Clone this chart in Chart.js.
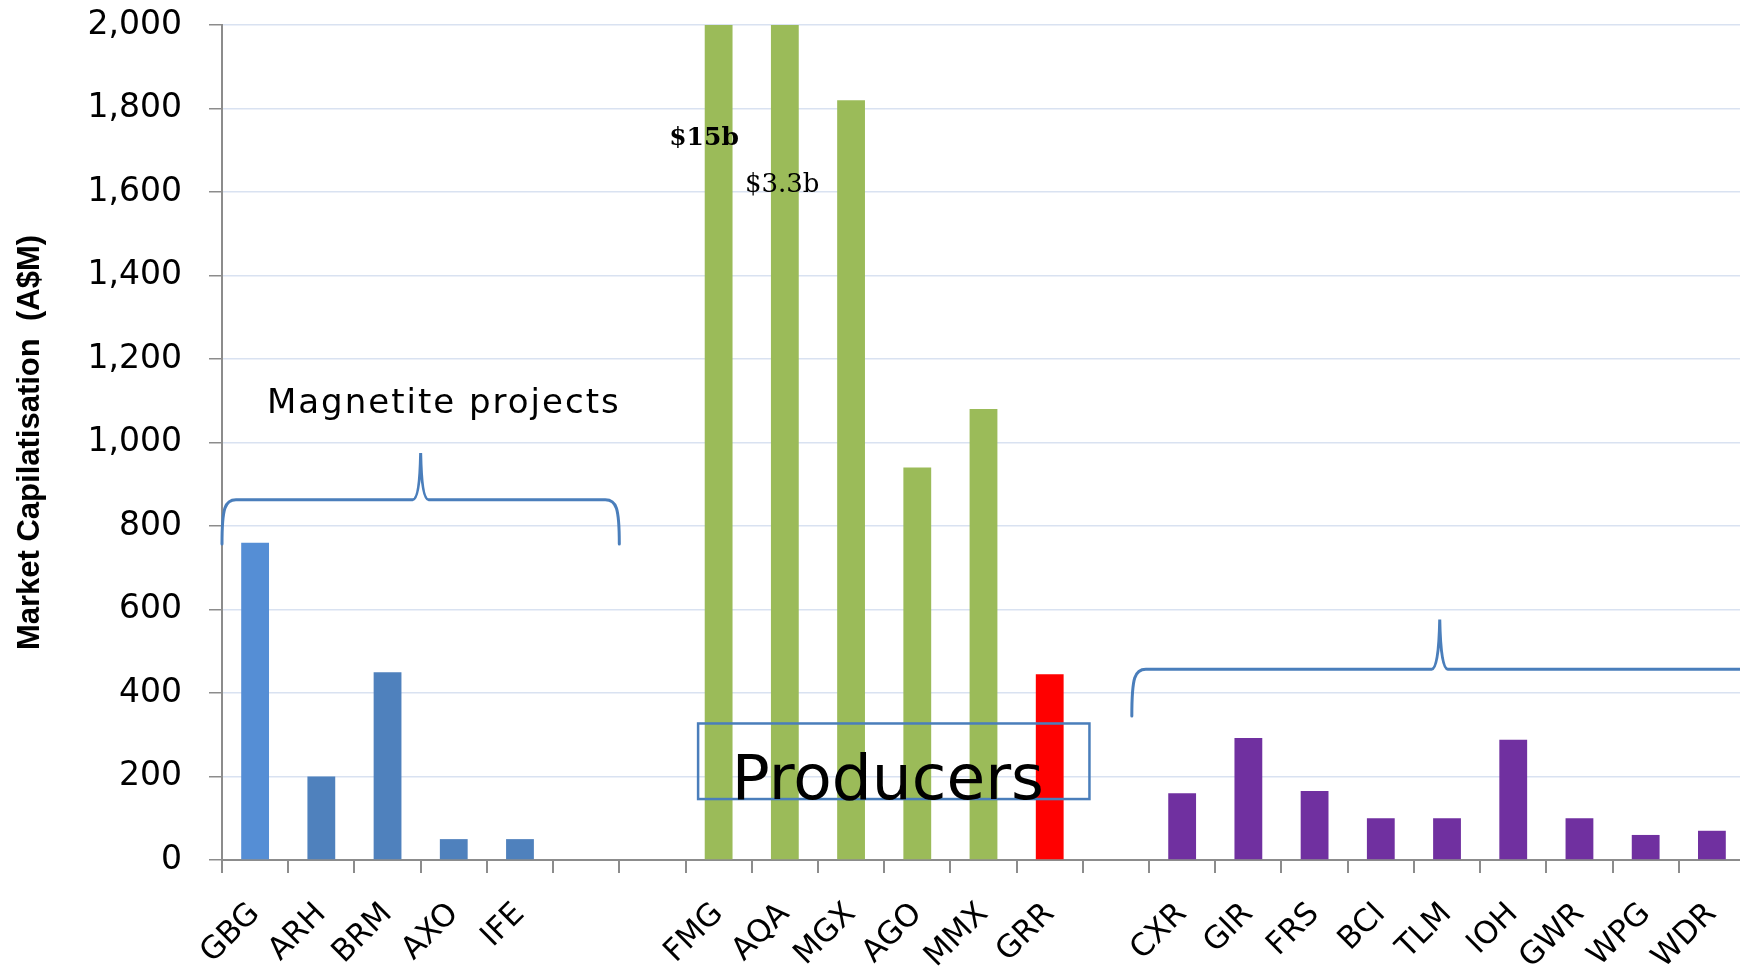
<!DOCTYPE html>
<html>
<head>
<meta charset="utf-8">
<script src="https://cdn.jsdelivr.net/npm/chart.js@4.4.1/dist/chart.umd.min.js"></script>
<style>
    html, body { margin: 0; padding: 0; background: #fff; overflow: hidden; }
    #wrap { width: 1770px; height: 972px; }
</style>
</head>
<body>
<div id="wrap"><canvas id="myChart" width="1770" height="972"></canvas></div>
<script>
// values (A$M); FMG and AQA run off the top ($15b, $3.3b)
const magnetiteLabels = ['GBG', 'ARH', 'BRM', 'AXO', 'IFE'];
const magnetiteValues = [760, 200, 450, 50, 50];
const producerLabels = ['FMG', 'AQA', 'MGX', 'AGO', 'MMX', 'GRR'];
const producerValues = [15000, 3300, 1820, 940, 1080, 445];
const developerLabels = ['CXR', 'GIR', 'FRS', 'BCI', 'TLM', 'IOH', 'GWR', 'WPG', 'WDR'];
const developerValues = [160, 292, 165, 100, 100, 288, 100, 60, 70];
const yMin = 0;
const yMax = 2000;
const yStep = 200;

const labels = [...magnetiteLabels, '', '', ...producerLabels, '', ...developerLabels];
const values = [...magnetiteValues, null, null, ...producerValues, null, ...developerValues];

const colors = [
    '#558ED5', '#4F81BD', '#4F81BD', '#4F81BD', '#4F81BD', null, null,
    '#9BBB59', '#9BBB59', '#9BBB59', '#9BBB59', '#9BBB59', '#FF0000', null,
    ...developerLabels.map(() => '#7030A0')
];

// braces, box and notes drawn on top, positioned through the scales
const notes = {
    id: 'notes',
    afterDatasetsDraw(chart) {
        const ctx = chart.ctx;
        const x = chart.scales.x;
        const y = chart.scales.y;
        const px = v => x.getPixelForValue(v);
        const py = v => y.getPixelForValue(v);

        function brace(x0, x1, xc, yb, yh, yp) {
            ctx.beginPath();
            ctx.moveTo(x0, yb);
            ctx.bezierCurveTo(x0, yh + 8, x0 + 3, yh, x0 + 14, yh);
            ctx.lineTo(xc - 8, yh);
            ctx.quadraticCurveTo(xc - 1, yh, xc, yp);
            ctx.quadraticCurveTo(xc + 1, yh, xc + 8, yh);
            ctx.lineTo(x1 - 14, yh);
            ctx.bezierCurveTo(x1 - 3, yh, x1, yh + 8, x1, yb);
            ctx.stroke();
        }

        ctx.save();
        ctx.strokeStyle = '#4A7EBB';
        ctx.lineWidth = 3;
        ctx.lineCap = 'round';
        brace(px(-0.5), px(5.5), px(2.5), py(757), py(863), py(975));
        brace(px(13.24), px(23.6), px(17.89), py(345), py(457), py(576));

        ctx.lineWidth = 2.5;
        ctx.strokeRect(px(6.69), py(327), px(12.6) - px(6.69), py(146) - py(327));

        ctx.fillStyle = '#000';
        ctx.textBaseline = 'middle';
        ctx.textAlign = 'center';
        ctx.font = '34px "DejaVu Sans"';
        ctx.letterSpacing = '2px';
        ctx.fillText('Magnetite projects', px(2.85), py(1092));
        ctx.letterSpacing = '0px';

        ctx.font = 'bold 25px "DejaVu Serif"';
        ctx.fillText('$15b', px(6.78), py(1729));
        ctx.font = '26px "DejaVu Serif"';
        ctx.fillText('$3.3b', px(7.96), py(1616));

        ctx.textAlign = 'left';
        ctx.textBaseline = 'alphabetic';
        ctx.font = '63px "DejaVu Sans"';
        ctx.fillText('Producers', px(7.2), py(146));
        ctx.restore();
    }
};

const data = {
    labels: labels,
    datasets: [
        {
            label: 'Market capitalisation',
            data: values,
            backgroundColor: colors,
            borderWidth: 0,
            barPercentage: 0.42,
            categoryPercentage: 1
        }
    ]
};

const config = {
    type: 'bar',
    data: data,
    options: {
        responsive: false,
        animation: false,
        devicePixelRatio: 1,
        layout: {
            padding: { top: 25, right: 25, left: 0, bottom: 0 }
        },
        plugins: {
            legend: { display: false },
            tooltip: { enabled: false }
        },
        scales: {
            x: {
                afterFit(scale) {
                    scale.height = 112;
                    scale.paddingLeft = 0;
                    scale.paddingRight = 0;
                },
                grid: {
                    drawOnChartArea: false,
                    tickLength: 13,
                    tickColor: '#8C8C8C',
                    lineWidth: 2
                },
                border: { color: '#8C8C8C', width: 2 },
                ticks: {
                    color: '#000',
                    font: { family: 'DejaVu Sans', size: 31 },
                    maxRotation: 45,
                    minRotation: 45,
                    autoSkip: false,
                    padding: 23
                }
            },
            y: {
                min: yMin,
                max: yMax,
                afterFit(scale) {
                    scale.width = 222;
                    scale.paddingTop = 0;
                    scale.paddingBottom = 0;
                },
                grid: {
                    color: '#D9E2F1',
                    lineWidth: 1.5,
                    tickLength: 13,
                    tickColor: '#8C8C8C'
                },
                border: { color: '#8C8C8C', width: 2 },
                ticks: {
                    stepSize: yStep,
                    color: '#000',
                    font: { family: 'DejaVu Sans', size: 33 },
                    padding: 27
                },
                title: {
                    display: true,
                    text: 'Market Capilatisation  (A$M)',
                    color: '#000',
                    font: { family: 'Liberation Sans', size: 31, weight: 'bold' },
                    padding: { top: 12, bottom: 0 }
                }
            }
        }
    },
    plugins: [notes]
};

const myChart = new Chart(
    document.getElementById('myChart'),
    config
);
</script>
</body>
</html>
